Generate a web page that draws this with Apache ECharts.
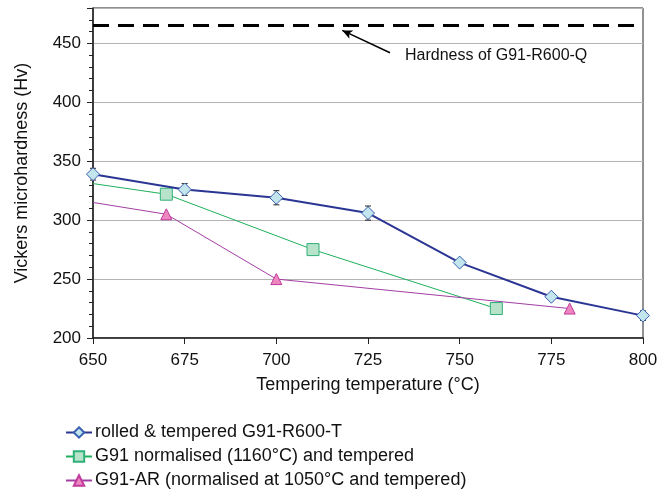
<!DOCTYPE html>
<html>
<head>
<meta charset="utf-8">
<script src="https://cdn.jsdelivr.net/npm/echarts@6/dist/echarts.min.js"></script>
<style>
  html, body { margin: 0; padding: 0; background: #fff; }
  #container { width: 672px; height: 492px; }
</style>
</head>
<body>
<div id="container"></div>
<script>
// data
var rolledX = [650, 675, 700, 725, 750, 775, 800];
var rolledY = [339, 326, 319, 306, 264, 235, 219];
var rolledErr = [5, 5, 6, 6, 1.5, 2, 4];

var normX = [650, 670, 710, 760];
var normY = [331, 322, 275, 225];

var arX = [650, 670, 700, 780];
var arY = [315, 305, 250, 225];

var quenchedHardness = 465;

var names = [
  'rolled & tempered G91-R600-T',
  'G91 normalised (1160°C) and tempered',
  'G91-AR (normalised at 1050°C and tempered)'
];

function pairs(xs, ys) {
  return xs.map(function (x, i) { return [x, ys[i]]; });
}

var errData = rolledX.map(function (x, i) {
  return [x, rolledY[i] - rolledErr[i], rolledY[i] + rolledErr[i]];
});

var font = 'Liberation Sans, Arial, sans-serif';
var dom = document.getElementById('container');
var myChart = echarts.init(dom);
var option = {
  backgroundColor: '#fff',
  animation: false,
  textStyle: { fontFamily: font },
  grid: { left: 93, right: 29, top: 8, bottom: 154 },
  legend: {
    orient: 'vertical',
    left: 65,
    top: 423,
    height: 80,
    width: 600,
    padding: 0,
    itemGap: 5,
    itemWidth: 26,
    itemHeight: 13,
    data: names,
    textStyle: { fontSize: 18, lineHeight: 19, color: '#111', fontFamily: font, padding: [0, 0, 0, -2] }
  },
  xAxis: {
    type: 'value',
    min: 650,
    max: 800,
    interval: 25,
    name: 'Tempering temperature (°C)',
    nameLocation: 'middle',
    nameGap: 38,
    nameTextStyle: { fontSize: 18, color: '#111' },
    axisLine: { lineStyle: { color: '#222', width: 1.5 } },
    axisTick: { inside: false, length: 6, lineStyle: { color: '#222' } },
    axisLabel: { fontSize: 17, color: '#111', margin: 14 },
    splitLine: { show: false }
  },
  yAxis: {
    type: 'value',
    min: 200,
    max: 480,
    interval: 50,
    name: 'Vickers microhardness (Hv)',
    nameLocation: 'middle',
    nameGap: 62,
    nameTextStyle: { fontSize: 18, color: '#111' },
    axisLine: { show: true, lineStyle: { color: '#222', width: 1.5 } },
    axisTick: { length: 6, lineStyle: { color: '#222' } },
    minorTick: { show: true, splitNumber: 5, length: 4, lineStyle: { color: '#222' } },
    axisLabel: {
      fontSize: 17, color: '#111', margin: 12,
      formatter: function (v) { return v > 450 ? '' : v; }
    },
    splitLine: { show: true, lineStyle: { color: '#b4b4b4', width: 1.2 } }
  },
  graphic: [
    {
      type: 'rect',
      shape: { x: 93, y: 8, width: 550, height: 330 },
      style: { fill: 'none', stroke: '#222', lineWidth: 1 },
      silent: true,
      z: 0
    },
    {
      type: 'text',
      left: 405,
      top: 48,
      style: { text: 'Hardness of G91-R600-Q', fontSize: 16, fill: '#111', fontFamily: font }
    }
  ],
  series: [
    {
      name: names[0],
      type: 'line',
      data: pairs(rolledX, rolledY),
      symbol: 'diamond',
      symbolSize: 13,
      lineStyle: { color: '#2b3594', width: 2 },
      itemStyle: { color: '#c2e5ee', borderColor: '#3a5fb0', borderWidth: 1 },
      z: 5,
      markLine: {
        silent: true,
        symbol: ['none', 'none'],
        label: { show: false },
        lineStyle: { color: '#000', width: 3, type: [16, 9] },
        data: [{ yAxis: quenchedHardness }]
      }
    },
    {
      name: names[1],
      type: 'line',
      data: pairs(normX, normY).map(function (p, i) {
        return i === 0 ? { value: p, symbol: 'none' } : p;
      }),
      symbol: 'rect',
      symbolSize: 12,
      lineStyle: { color: '#1eb05c', width: 1 },
      itemStyle: { color: '#b6e3c9', borderColor: '#2fb07a', borderWidth: 1 },
      z: 4
    },
    {
      name: names[2],
      type: 'line',
      data: pairs(arX, arY).map(function (p, i) {
        return i === 0 ? { value: p, symbol: 'none' } : p;
      }),
      symbol: 'triangle',
      symbolSize: 11,
      lineStyle: { color: '#a43ea4', width: 1 },
      itemStyle: { color: '#ee86bf', borderColor: '#c23a9c', borderWidth: 1 },
      z: 4,
      markLine: {
        silent: true,
        symbol: ['none', 'arrow'],
        symbolSize: [7, 10],
        label: { show: false },
        lineStyle: { color: '#000', width: 1.5, type: 'solid' },
        data: [[{ coord: [731, 442] }, { coord: [718, 461] }]]
      }
    },
    {
      type: 'custom',
      name: 'err',
      data: errData,
      z: 3,
      renderItem: function (params, api) {
        var lo = api.coord([api.value(0), api.value(1)]);
        var hi = api.coord([api.value(0), api.value(2)]);
        var w = 3;
        return {
          type: 'group',
          children: [
            { type: 'line', shape: { x1: lo[0], y1: lo[1], x2: hi[0], y2: hi[1] }, style: { stroke: '#222', lineWidth: 1 } },
            { type: 'line', shape: { x1: lo[0] - w, y1: lo[1], x2: lo[0] + w, y2: lo[1] }, style: { stroke: '#222', lineWidth: 1 } },
            { type: 'line', shape: { x1: hi[0] - w, y1: hi[1], x2: hi[0] + w, y2: hi[1] }, style: { stroke: '#222', lineWidth: 1 } }
          ]
        };
      }
    }
  ]
};
myChart.setOption(option);
</script>
</body>
</html>
